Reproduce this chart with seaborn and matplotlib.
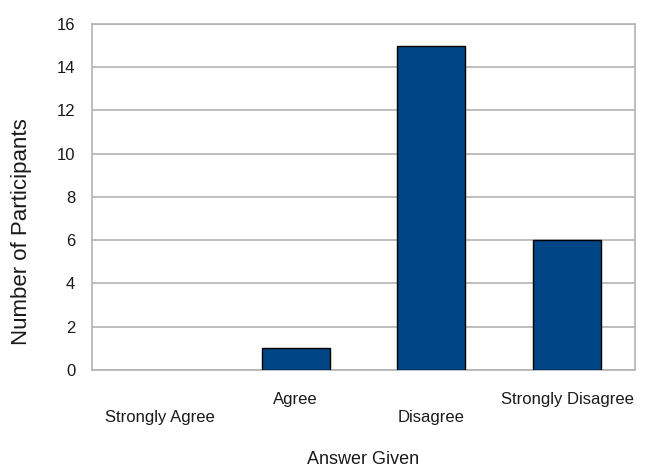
import matplotlib
matplotlib.use('Agg')
import matplotlib.pyplot as plt
import seaborn as sns
import pandas as pd
import numpy as np

# Data
answers = ['Strongly Agree', 'Agree', 'Disagree', 'Strongly Disagree']
participants = [0, 1, 15, 6]

df = pd.DataFrame({'answer': answers, 'count': participants})

sns.set_style('white')
plt.rcParams['font.family'] = ['Liberation Sans', 'DejaVu Sans']

fig = plt.figure(figsize=(6.51, 4.67), dpi=100)
ax = fig.add_axes([0.1413, 0.2077, 0.834, 0.741])

sns.barplot(data=df, x='answer', y='count', color='#004586', saturation=1,
            edgecolor='black', linewidth=1, width=0.5, ax=ax, zorder=3)

# no outline for empty bars
for p in ax.patches:
    if p.get_height() == 0:
        p.set_linewidth(0)

grid_c = '#b3b3b3'
txt_c = '#1a1a1a'
ax.set_xlim(-0.5, len(answers) - 0.5)
ax.set_ylim(0, 16)
ax.set_yticks(range(0, 17, 2))
ax.yaxis.grid(True, color=grid_c, linewidth=1.2, zorder=0)
ax.set_axisbelow(True)

# category boundaries get the tick marks, labels sit at the centres (staggered)
ax.set_xticks(np.arange(-0.5, len(answers), 1.0))
ax.set_xticklabels([])
ax.set_xticks(range(len(answers)), minor=True)
ax.set_xticklabels([('\n' + a) if i % 2 == 0 else a for i, a in enumerate(answers)],
                   minor=True, fontsize=12, color=txt_c)
ax.tick_params(axis='x', which='major', length=10, width=1.2, color=grid_c, direction='out')
ax.tick_params(axis='x', which='minor', length=0, pad=16)
ax.tick_params(axis='y', length=8, width=1.2, color=grid_c, direction='out',
               labelsize=12, labelcolor=txt_c, pad=4)

for s in ax.spines.values():
    s.set_color(grid_c)
    s.set_linewidth(1.2)

ax.set_xlabel('Answer Given', fontsize=13, color=txt_c, labelpad=19)
ax.set_ylabel('Number of Participants', fontsize=16, color=txt_c)
ax.yaxis.set_label_coords(-0.11, 0.40)

plt.savefig('out.png', dpi=100)
